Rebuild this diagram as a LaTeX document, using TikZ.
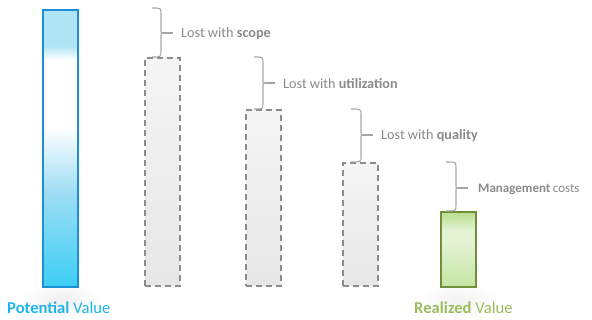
\documentclass[tikz,border=0pt]{standalone}
\usepackage{fontspec}
\setmainfont{Carlito}
\usetikzlibrary{calc}
\definecolor{txtgray}{HTML}{8A8A8A}
\definecolor{bracegray}{HTML}{A6A6A6}
\definecolor{dashgray}{HTML}{8C8C8C}
\definecolor{bluetxt}{HTML}{1FB5EA}
\definecolor{greentxt}{HTML}{9CBD5E}
\definecolor{blueline}{HTML}{1C8FD6}
\definecolor{greenline}{HTML}{6F8F38}
\definecolor{bbot}{HTML}{3CCEF4}
\definecolor{bmid}{HTML}{9EDDF4}
\definecolor{btop}{HTML}{B0E5F7}
\definecolor{gtop}{HTML}{B8DE8E}
\definecolor{gmid}{HTML}{E4F2D4}
\definecolor{gbot}{HTML}{C4E5A2}
\pgfdeclareverticalshading{bluebar}{100bp}{color(0bp)=(bbot); color(25bp)=(bbot); color(42bp)=(bmid); color(54bp)=(white); color(66bp)=(white); color(68.5bp)=(btop); color(75bp)=(btop); color(100bp)=(btop)}
\pgfdeclareverticalshading{greenbar}{100bp}{color(0bp)=(gbot); color(25bp)=(gbot); color(55bp)=(gmid); color(63bp)=(gmid); color(75bp)=(gtop); color(100bp)=(gtop)}
\tikzset{
  x=1pt, y=-1pt,
  barbox/.style={rectangle, inner sep=0pt, outer sep=0pt, minimum width=35pt, anchor=north west},
  potbar/.style={barbox, draw=blueline, line width=1.4pt, shading=bluebar},
  lostbar/.style={barbox, draw=dashgray, line width=1.5pt, dash pattern=on 6pt off 4pt, top color=gray!8, bottom color=gray!19},
  realbar/.style={barbox, draw=greenline, line width=1.3pt, shading=greenbar},
  bracelin/.style={draw=bracegray, line width=1.1pt},
  losttxt/.style={anchor=base west, inner sep=0pt, text=txtgray, font=\fontsize{14.2}{16}\selectfont},
  bigtxt/.style={anchor=base west, inner sep=0pt, font=\fontsize{16.6}{19}\selectfont},
}
\newcommand{\mybrace}[6]{% xl, xv, yt, ym, yb, name
  \coordinate (#6tip) at (#2+2,#4);
  \draw[bracelin] (#1,#3) .. controls (#2,#3) .. (#2,#3+6) -- (#2,#4-4) .. controls (#2,#4) .. (#2+2,#4) .. controls (#2,#4) .. (#2,#4+4) -- (#2,#5-6) .. controls (#2,#5) .. (#1,#5);
}
\begin{document}
\begin{tikzpicture}
\useasboundingbox (0,0) rectangle (592,320);
% faint reflections
\shade[inner color=gray!12, outer color=white] (61,300) ellipse (40 and 20);
\shade[inner color=gray!10, outer color=white] (458,300) ellipse (40 and 20);
% bars
\node[potbar, minimum height=277pt] (pot) at (43,10) {};
\node[lostbar, minimum height=228pt] (scope) at (145,58) {};
\node[lostbar, minimum height=176pt] (util) at (246,110) {};
\node[lostbar, minimum height=123pt] (qual) at (343,163) {};
\node[realbar, minimum height=75pt] (real) at (441,212) {};
% braces
\mybrace{152}{161}{8}{33}{57}{b1}
\mybrace{254}{263}{57}{83}{109}{b2}
\mybrace{351}{361}{109}{135}{162}{b3}
\mybrace{446}{456}{162}{188}{211}{b4}
% texts
\node[losttxt] (t1) at (181,37.5) {Lost with \textbf{scope}};
\node[losttxt] (t2) at (283,88.5) {Lost with \textbf{utilization}};
\node[losttxt] (t3) at (381,139.5) {Lost with \textbf{quality}};
\node[anchor=base west, inner sep=0pt, text=txtgray, font=\fontsize{13}{15}\selectfont] (t4) at (478,192.5) {\textbf{Management}\hspace{-0.5pt} costs};
\draw[bracelin] (b1tip) -- ++(10,0);
\draw[bracelin] (b2tip) -- ++(10,0);
\draw[bracelin] (b3tip) -- ++(10,0);
\draw[bracelin] (b4tip) -- ++(10,0);
\node[bigtxt, text=bluetxt] (lp) at (7,314) {\textbf{Potential} Value};
\node[bigtxt, text=greentxt] (lr) at (414,314) {\textbf{Realized} Value};
\end{tikzpicture}
\end{document}
